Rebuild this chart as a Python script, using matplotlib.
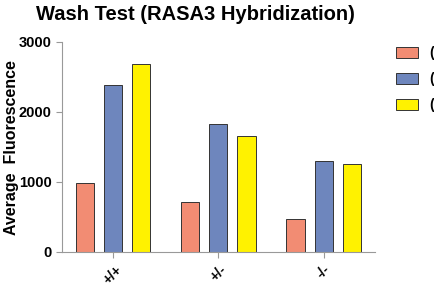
import numpy as np
import matplotlib
matplotlib.use("Agg")
import matplotlib.pyplot as plt

plt.rcParams['font.family'] = ['Liberation Sans', 'DejaVu Sans']
plt.rcParams['font.weight'] = 'bold'

genotypes = ['+/+', '+/-', '-/-']
series = ['(Wash 1)', '(Wash 2)', '(Wash 3)']
wash1 = [980, 720, 470]
wash2 = [2380, 1830, 1300]
wash3 = [2690, 1650, 1250]
colors = ['#F28C73', '#6E86BD', '#FFF200']

fig = plt.figure(figsize=(4.35, 2.93), dpi=100)
ax = fig.add_axes([0.1425, 0.14, 0.72, 0.717])

x = np.arange(len(genotypes))
w = 0.172
off = 0.267
for i, (vals, c, lab) in enumerate(zip([wash1, wash2, wash3], colors, series)):
    ax.bar(x + (i - 1) * off, vals, w, color=c, edgecolor='#333333', linewidth=0.7, label=lab)

ax.set_xlim(-0.486, 2.49)
ax.set_ylim(0, 3000)
ax.set_yticks([0, 1000, 2000, 3000])
ax.set_xticks(x)
ax.set_xticklabels(genotypes, rotation=45, fontsize=10, fontweight='bold')
ax.tick_params(axis='y', labelsize=10.5, colors='#999999', labelcolor='black', length=4)
ax.tick_params(axis='x', colors='#999999', labelcolor='black', length=4)
for s in ['top', 'right']:
    ax.spines[s].set_visible(False)
for s in ['left', 'bottom']:
    ax.spines[s].set_color('#999999')

fig.text(0.026, 0.495, 'Average  Fluorescence', rotation=90, ha='center', va='center',
         fontsize=11.5, fontweight='bold')

fig.text(0.45, 0.952, 'Wash Test (RASA3 Hybridization)', ha='center', va='center',
         fontsize=14.5, fontweight='bold')

fig.legend(loc='upper left', bbox_to_anchor=(0.895, 0.865), frameon=False,
           fontsize=10, handlelength=1.6, handleheight=0.8, labelspacing=0.85,
           handletextpad=0.8, borderpad=0)

fig.savefig('out.png', dpi=100)
